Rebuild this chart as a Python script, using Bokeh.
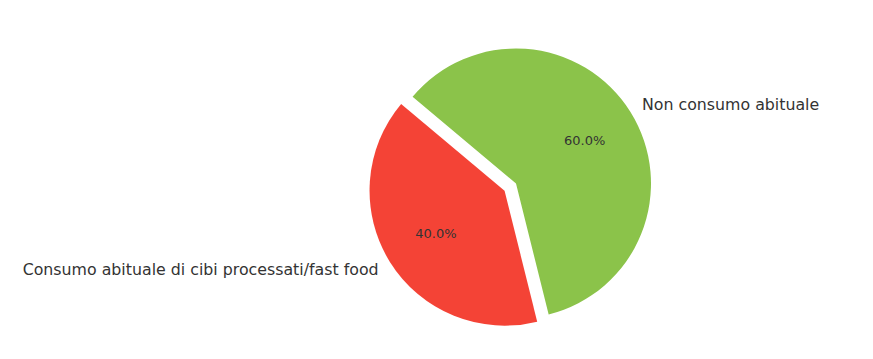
import math
from bokeh.plotting import figure
from bokeh.models import ColumnDataSource
from bokeh.core.properties import value
from bokeh.embed import file_html
from bokeh.resources import INLINE

labels = ["Consumo abituale di cibi processati/fast food", "Non consumo abituale"]
values = [40, 60]
colors = ["#f44336", "#8bc34a"]
explode = [0.1, 0.0]
start_angle_deg = 140

W, H = 873, 359
R_PX = 135.0
CX, CY = 515.5, 183.0

p = figure(width=W, height=H, output_backend="svg", toolbar_location=None,
           x_range=(-CX / R_PX, (W - CX) / R_PX),
           y_range=(-(H - CY) / R_PX, CY / R_PX),
           min_border=0, min_border_left=0, min_border_right=0,
           min_border_top=0, min_border_bottom=0)
p.axis.visible = False
p.grid.visible = False
p.outline_line_color = None
p.background_fill_color = "white"
p.border_fill_color = "white"

total = sum(values)
xs, ys, starts, ends = [], [], [], []
lx, ly, lalign, px_, py_, pct = [], [], [], [], [], []
a = math.radians(start_angle_deg)
for v, e in zip(values, explode):
    span = 2 * math.pi * v / total
    mid = a + span / 2
    cx = e * math.cos(mid)
    cy = e * math.sin(mid)
    xs.append(cx); ys.append(cy)
    starts.append(a); ends.append(a + span)
    tx = cx + 1.1 * math.cos(mid)
    ty = cy + 1.1 * math.sin(mid)
    lx.append(tx); ly.append(ty)
    lalign.append("left" if tx > 0 else "right")
    px_.append(cx + 0.6 * math.cos(mid)); py_.append(cy + 0.6 * math.sin(mid))
    pct.append(f"{100 * v / total:.1f}%")
    a += span

src = ColumnDataSource(dict(x=xs, y=ys, start=starts, end=ends, color=colors,
                            lx=lx, ly=ly, label=labels, align=lalign,
                            px=px_, py=py_, pct=pct))

p.wedge(x="x", y="y", radius=1.0, start_angle="start", end_angle="end",
        fill_color="color", line_color=None, source=src)

p.text(x="lx", y="ly", text="label", text_align="align", text_baseline="middle",
       text_font=value("DejaVu Sans"), text_font_size="15.8px", text_color="#333333",
       source=src)
p.text(x="px", y="py", text="pct", text_align="center", text_baseline="middle",
       text_font=value("DejaVu Sans"), text_font_size="13px", text_color="#333333",
       source=src)

open("out.html", "w").write(file_html(p, INLINE))
